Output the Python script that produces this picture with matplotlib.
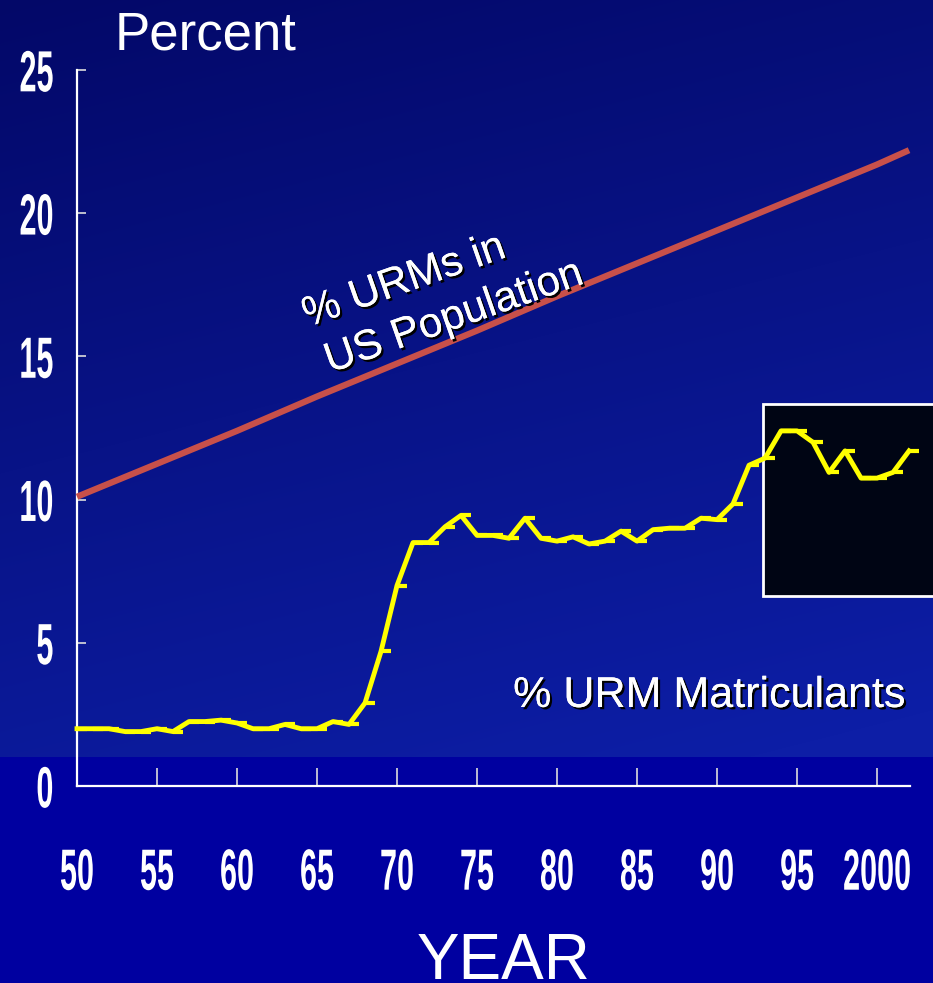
import numpy as np
import matplotlib
matplotlib.use("Agg")
import matplotlib.pyplot as plt
import matplotlib.patheffects as pe
from matplotlib.patches import Rectangle
from matplotlib.transforms import Affine2D

# % URM matriculants, one value per year 1950-2002
matric_years = list(range(1950, 2003))
matric_pct = [2.0, 2.0, 2.0, 1.9, 1.9, 2.0, 1.9, 2.25, 2.25, 2.3,
              2.2, 2.0, 2.0, 2.15, 2.0, 2.0, 2.25, 2.15, 2.9, 4.7,
              7.0, 8.5, 8.5, 9.05, 9.45, 8.75, 8.75, 8.65, 9.35, 8.65,
              8.55, 8.7, 8.45, 8.55, 8.9, 8.55, 8.95, 9.0, 9.0, 9.35,
              9.3, 9.85, 11.2, 11.45, 12.4, 12.4, 12.0, 10.95, 11.7, 10.75,
              10.75, 10.95, 11.7]

# % URMs in US population
pop_years = [1950, 1955, 1960, 1965, 1970, 1975, 1980, 1985, 1990, 1995, 2000, 2002]
pop_pct = [10.1, 11.25, 12.4, 13.6, 14.75, 15.9, 17.1, 18.25, 19.4, 20.55, 21.7, 22.2]

xticks = [1950, 1955, 1960, 1965, 1970, 1975, 1980, 1985, 1990, 1995, 2000]
xtick_labels = ["50", "55", "60", "65", "70", "75", "80", "85", "90", "95", "2000"]
yticks = [0, 5, 10, 15, 20, 25]

W, H = 933, 983
fig = plt.figure(figsize=(W / 100, H / 100), dpi=100)


class VStretch(pe.AbstractPathEffect):
    """Draw text taller than normal (the slide uses a tall narrow font)."""

    def __init__(self, sy, dy):
        super().__init__()
        self.sy = sy
        self.dy = dy  # stretch about this many px above the baseline

    def draw_path(self, renderer, gc, tpath, affine, rgbFace=None):
        x0, y0 = affine.transform((0, 0))
        yc = y0 + self.dy
        aff = affine + Affine2D().translate(-x0, -yc).scale(1, self.sy).translate(x0, yc)
        renderer.draw_path(gc, tpath, aff, rgbFace)


# background: dark navy gradient, solid blue strip at the bottom
yy, xx = np.mgrid[0:H, 0:W]
t = np.clip(0.8 * yy / 757 + 0.25 * xx / W, 0, 1)
top = np.array([0x03, 0x08, 0x68]) / 255
low = np.array([0x0d, 0x1e, 0xa6]) / 255
img = top + (low - top) * t[..., None]
img[yy >= 757] = np.array([0x00, 0x00, 0xa0]) / 255
bg = fig.add_axes([0, 0, 1, 1], zorder=-10)
bg.imshow(img, extent=[0, 1, 0, 1], aspect="auto", interpolation="bilinear")
bg.axis("off")


def fx(px):
    return px / W


def fy(py):
    return 1 - py / H


ax = fig.add_axes([fx(77), fy(786), fx(910) - fx(77), fy(70) - fy(786)])
ax.set_facecolor("none")
ax.set_xlim(1950, 2002.06)
ax.set_ylim(0, 25)

# black inset box on the right
box = Rectangle((fx(763), fy(596)), fx(945) - fx(763), fy(404) - fy(596),
                transform=fig.transFigure, facecolor="#000514",
                edgecolor="white", linewidth=2, clip_on=False, zorder=1)
ax.add_patch(box)

ax.plot(pop_years, pop_pct, color="#c8504a", linewidth=4.5,
        solid_capstyle="butt", zorder=3, clip_on=False)
ax.plot(matric_years, matric_pct, color="#ffff00", linewidth=3.5,
        marker=[(0, 0), (1, 0)], markersize=14, markeredgewidth=3,
        markeredgecolor="#ffff00", zorder=4, clip_on=False)

for s in ["top", "right"]:
    ax.spines[s].set_visible(False)
for s in ["left", "bottom"]:
    ax.spines[s].set_color("white")
    ax.spines[s].set_linewidth(1.6)

tick_size = 22
tick_font = dict(family=["Liberation Sans", "DejaVu Sans"],
                 weight="bold", size=tick_size)
ax.set_xticks(xticks)
ax.set_xticklabels(xtick_labels, fontdict=tick_font)
ax.set_yticks(yticks)
ax.set_yticklabels([str(v) for v in yticks], fontdict=tick_font)
ax.tick_params(axis="x", direction="in", length=13, width=1.2,
               colors="#dddddd", pad=51)
ax.tick_params(axis="y", direction="in", length=6.5, width=1.2,
               colors="#dddddd", pad=17)
half_cap = 0.358 * tick_size * 100 / 72
for lab in ax.get_xticklabels() + ax.get_yticklabels():
    lab.set_color("white")
    lab.set_path_effects([VStretch(1.9, half_cap)])

shadow = [pe.withSimplePatchShadow(offset=(1.6, -1.6), shadow_rgbFace="black",
                                   alpha=1.0), pe.Normal()]
label_font = ["Liberation Sans", "DejaVu Sans"]

fig.text(fx(115), fy(50), "Percent", color="white", fontsize=38,
         family=label_font, ha="left", va="baseline")
fig.text(fx(504), fy(979), "YEAR", color="white", fontsize=46,
         family=label_font, ha="center", va="baseline")
fig.text(fx(905), fy(707), "% URM Matriculants", color="white", fontsize=31,
         family=label_font, ha="right", va="baseline", path_effects=shadow)
fig.text(fx(308), fy(327), "% URMs in", color="white", fontsize=30.5,
         family=label_font, ha="left", va="baseline", rotation=19.4,
         rotation_mode="anchor", path_effects=shadow)
fig.text(fx(330), fy(373), "US Population", color="white", fontsize=30.5,
         family=label_font, ha="left", va="baseline", rotation=19.4,
         rotation_mode="anchor", path_effects=shadow)

fig.savefig("out.png", dpi=100)
